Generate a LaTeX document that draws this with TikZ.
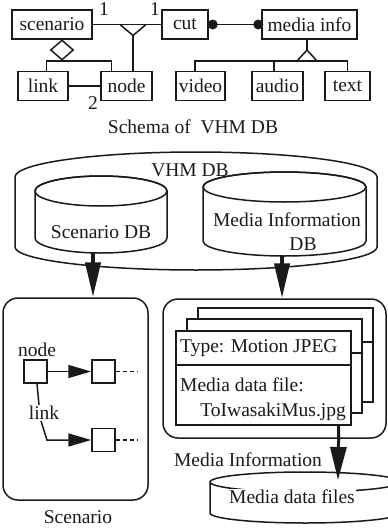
\documentclass[tikz,border=0pt]{standalone}
\usepackage{fontspec}
\setmainfont{Liberation Serif}
\usetikzlibrary{arrows.meta,calc,shapes.geometric}
\definecolor{ink}{HTML}{1A1A1A}
\tikzset{
  lbl/.style   = {font=\fontsize{19.5}{22}\selectfont, text=ink, inner sep=1pt},
  ent/.style   = {draw=ink, line width=1.5pt, minimum height=29pt, inner sep=2pt,
                  font=\fontsize{19.5}{22}\selectfont, text=ink},
  wire/.style  = {draw=ink, line width=1.5pt},
  fat/.style   = {draw=ink, line width=4pt, -{Triangle[length=35pt,width=15pt]}},
  fatb/.style  = {draw=ink, line width=3pt, -{Triangle[length=33pt,width=16pt]}},
  thin/.style  = {draw=ink, line width=1.5pt, -{Triangle[length=23pt,width=13pt]}},
  cell/.style  = {draw=ink, line width=1.5pt, minimum size=23pt, inner sep=0pt, fill=white},
  card/.style  = {draw=ink, line width=1.5pt, fill=white, minimum width=175pt,
                  minimum height=94pt, anchor=north west},
  panel/.style = {draw=ink, line width=1.5pt, rounded corners=15pt},
}

\begin{document}
\begin{tikzpicture}[x=1pt,y=-1pt]
  \useasboundingbox (0,0) rectangle (388,530);
  \clip (0,0) rectangle (388,530);

  % schema
  \node[ent, minimum width=80pt] (scen)  at (52,24.5)    {scenario};
  \node[ent, minimum width=46pt] (cut)   at (185,24.5)   {cut};
  \node[ent, minimum width=95pt] (minfo) at (309.5,24.5) {media info};
  \node[ent, minimum width=50pt] (link)  at (43,86)      {link};
  \node[ent, minimum width=51pt] (nd)    at (126.5,86)   {node};
  \node[ent, minimum width=49pt] (video) at (200.5,86)   {video};
  \node[ent, minimum width=51pt] (audio) at (277.5,86)   {audio};
  \node[ent, minimum width=45pt] (txt)   at (347.5,86)   {text};

  \draw[wire] (scen.east) -- (cut.west);
  \coordinate (rel) at (133,24.5);
  \draw[wire] ($(rel)+(-13,0)$) -- ($(rel)+(0,11)$) -- ($(rel)+(13,0)$);
  \draw[wire] ($(rel)+(0,11)$) -- (rel |- nd.north);
  \node[lbl] (one1) at (104,9)  {1};
  \node[lbl] (one2) at (155,9)  {1};
  \node[lbl] (two)  at (93,103) {2};

  \node[draw=ink, line width=1.5pt, diamond, aspect=1.15, minimum width=23pt,
        minimum height=20pt, inner sep=0pt] (agg) at (62,50) {};
  \coordinate (bar) at (62,61);
  \draw[wire] (agg.south) -- (bar);
  \draw[wire] ($(link.north west)+(29,0)$) |- (bar) -| ($(nd.north west)+(11,0)$);
  \draw[wire] (link.east) -- (nd.west);

  \draw[wire] (cut.east) -- (minfo.west);
  \fill[ink] ([xshift=4pt]cut.east) circle (5pt);
  \fill[ink] ([xshift=-3pt]minfo.west) circle (5pt);

  \coordinate (gen) at (307,50);
  \draw[wire] (minfo.south -| gen) -- (gen);
  \draw[wire] (gen) -- ++(-10,11) -- ++(20,0) -- cycle;
  \coordinate (vbar) at (195,61);
  \coordinate (abar) at (274,61);
  \draw[wire] (vbar |- video.north) -- (vbar) -- (vbar -| txt.north) -- (txt.north);
  \draw[wire] (abar) -- (abar |- audio.north);

  \node[lbl] (cap) at (193,127) {Schema of \ VHM DB};

  % databases
  \draw[wire] (15,247) -- (15,177)
    arc[start angle=180, end angle=0, x radius=181pt, y radius=25pt] -- (377,247)
    arc[start angle=0, end angle=-180, x radius=181pt, y radius=23pt];
  \node[lbl] (vhm) at (190,170) {VHM DB};

  \draw[wire, fill=white] (35,191) -- (35,238)
    arc[start angle=180, end angle=360, x radius=66pt, y radius=15pt] -- (167,191)
    arc[start angle=0, end angle=180, x radius=66pt, y radius=15pt] -- cycle;
  \draw[wire] (101,191) ellipse [x radius=66pt, y radius=15pt];
  \node[lbl] (scdb) at (101,232) {Scenario DB};

  \draw[wire, fill=white] (203,187) -- (203,241)
    arc[start angle=180, end angle=360, x radius=81.5pt, y radius=15pt] -- (366,187)
    arc[start angle=0, end angle=180, x radius=81.5pt, y radius=15pt] -- cycle;
  \draw[wire] (284.5,187) ellipse [x radius=81.5pt, y radius=15pt];
  \node[lbl] (midb)  at (287,220) {Media Information};
  \node[lbl] (midb2) at (303,244) {DB};

  % panels
  \node[panel, minimum width=145pt, minimum height=202pt] (scbox) at (75.5,399) {};
  \node[panel, minimum width=223pt, minimum height=139pt] (mibox) at (274.5,368.5) {};
  \coordinate (scout) at (93,253);
  \coordinate (miout) at (282,256);
  \draw[fat] (scout) -- (scout |- scbox.north);
  \draw[fat] (miout) -- (miout |- mibox.north);

  % scenario graph
  \node[lbl]  (ndl) at (37,350) {node};
  \node[cell] (n1)  at (35.5,371.5) {};
  \node[cell] (n2)  at (103.5,371.5) {};
  \node[cell] (n3)  at (103.5,440) {};
  \draw[thin] (n1) -- (n2);
  \coordinate (d2) at (137,371.5);
  \coordinate (d3) at (137,440);
  \draw[wire, dash pattern=on 4pt off 3pt] (n2.east) -- (d2);
  \draw[wire, dash pattern=on 4pt off 3pt] (n3.east) -- (d3);
  \node[lbl] (lnk) at (44,413) {link};
  \draw[wire] ([xshift=1.5pt]n1.south) -- ([xshift=-5pt]lnk.north);
  \coordinate (bend) at (47,440);
  \draw[thin] ([xshift=-3pt]lnk.south) -- (bend) -- (n3.west);
  \node[lbl] (sclbl) at (78,517) {Scenario};

  % media information cards
  \node[card] (c3) at (197,307) {};
  \draw[wire] ([yshift=-35pt]c3.north west) -- ([yshift=-35pt]c3.north east);
  \node[card] (c2) at (186,318) {};
  \draw[wire] ([yshift=-35pt]c2.north west) -- ([yshift=-35pt]c2.north east);
  \node[card] (c1) at (175,330) {};
  \draw[wire] ([yshift=-35pt]c1.north west) -- ([yshift=-35pt]c1.north east);
  \node[lbl, anchor=west] (ty) at (179,348) {Type: Motion JPEG};
  \node[lbl, anchor=west] (mf) at (179,385) {Media data file:};
  \node[lbl, anchor=east] (fn) at (347,412) {ToIwasakiMus.jpg};
  \node[lbl] (milbl) at (248,460) {Media Information};

  % media data files
  \draw[wire] (210,482) -- (210,513)
    arc[start angle=180, end angle=360, x radius=95pt, y radius=10pt] -- (400,482);
  \draw[wire] (305,482) ellipse [x radius=95pt, y radius=10pt];
  \node[lbl, fill=white] (mdf) at (292,497) {Media data files};
  \coordinate (mdtop) at (338,480);
  \draw[fatb] ([xshift=75.5pt]c1.south) -- (mdtop);
\end{tikzpicture}
\end{document}
